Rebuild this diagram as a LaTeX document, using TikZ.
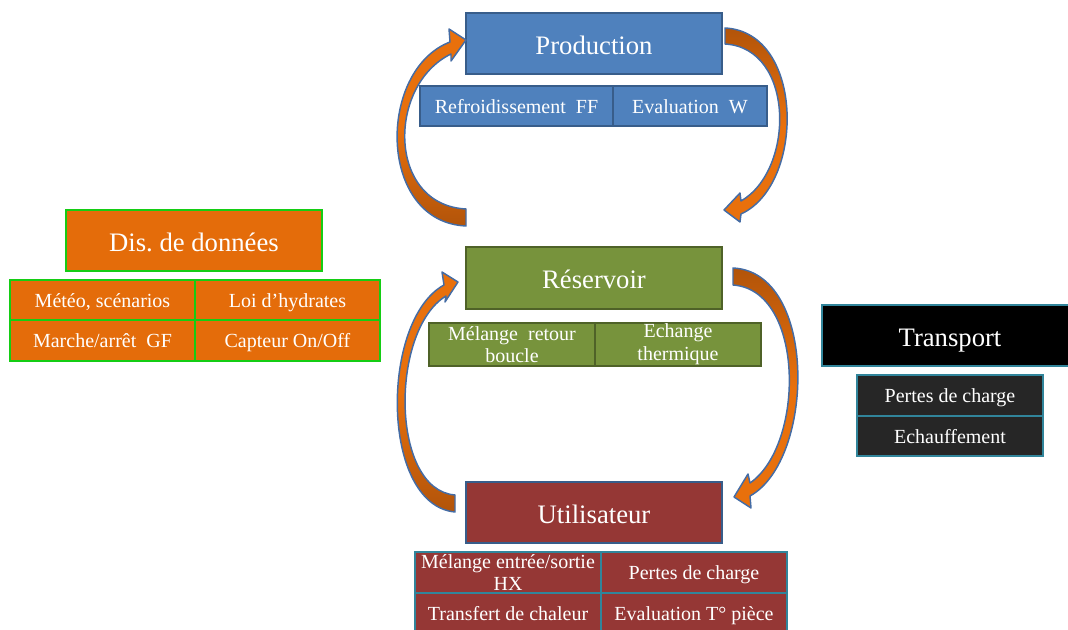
\documentclass[tikz,border=0pt]{standalone}
\usepackage{fontspec}
\setmainfont{Liberation Serif}
\usepackage{xcolor}
\usetikzlibrary{positioning}
\frenchspacing
\definecolor{pblue}{RGB}{79,129,189}
\definecolor{pedge}{RGB}{56,93,138}
\definecolor{rgreen}{RGB}{119,147,60}
\definecolor{redge}{RGB}{79,98,40}
\definecolor{ured}{RGB}{149,55,53}
\definecolor{tealedge}{RGB}{49,133,155}
\definecolor{dorange}{RGB}{228,108,10}
\definecolor{dedge}{RGB}{20,205,20}
\definecolor{tdark}{RGB}{38,38,38}
\definecolor{aorange}{RGB}{232,112,12}
\definecolor{abrown}{RGB}{178,84,10}
\definecolor{aedge}{RGB}{68,108,165}
\tikzset{
  tbox/.style ={rectangle, draw, line width=1.5pt, text=white, align=center,
                inner sep=0pt, outer sep=0pt, minimum width=192pt,
                minimum height=45.75pt, text height=16pt, text depth=0pt,
                font=\fontsize{20}{23}\selectfont},
  sbox/.style ={rectangle, draw, line width=1.5pt, text=white, align=center,
                inner sep=0pt, outer sep=0pt, minimum height=30.5pt,
                font=\fontsize{15}{17}\selectfont},
  sline/.style={sbox, text height=11pt, text depth=0pt},
  carrow/.style={draw=aedge, line width=1.1pt, line join=round},
  tailup/.style ={carrow, top color=abrown, bottom color=aorange, middle color=aorange},
  taildown/.style={carrow, top color=aorange, bottom color=abrown, middle color=aorange}
}

\begin{document}
\begin{tikzpicture}[x=0.75pt, y=-0.75pt]
\useasboundingbox (0,0) rectangle (1068,630);
% Production
\node[tbox, fill=pblue, draw=pedge] (prod) at (594,43.5) {Production};
\node[sline, fill=pblue, draw=pedge, minimum width=144.75pt] (refr) at (516.5,106) {Refroidissement~ FF};
\node[sline, fill=pblue, draw=pedge, minimum width=115.5pt, right=0pt of refr] (evalw) {Evaluation~ W};
% Reservoir
\node[tbox, fill=rgreen, draw=redge, minimum height=46.5pt] (res) at (594,278) {Réservoir};
\node[sbox, fill=rgreen, draw=redge, minimum width=124.5pt, minimum height=32.25pt] (melr) at (512,344.5) {Mélange~ retour\\boucle};
\node[sbox, fill=rgreen, draw=redge, minimum width=124.5pt, minimum height=32.25pt, right=0pt of melr] (echt) {Echange\\thermique};
% Utilisateur
\node[tbox, fill=ured, draw=pedge] (util) at (594,512.5) {Utilisateur};
\node[sbox, fill=ured, draw=tealedge, minimum width=139.5pt] (mels) at (508,572.5) {Mélange entrée/sortie\\HX};
\node[sline, fill=ured, draw=tealedge, minimum width=139.5pt, right=0pt of mels] (pdcu) {Pertes de charge};
\node[sline, fill=ured, draw=tealedge, minimum width=139.5pt, below=0pt of mels] (tdc) {Transfert de chaleur};
\node[sline, fill=ured, draw=tealedge, minimum width=139.5pt, right=0pt of tdc] (evalt) {Evaluation T° pièce};
% Dis. de donnees
\node[tbox, fill=dorange, draw=dedge] (dis) at (194,240.5) {Dis. de données};
\node[sline, fill=dorange, draw=dedge, minimum width=138.75pt] (meteo) at (102.5,300) {Météo, scénarios};
\node[sline, fill=dorange, draw=dedge, minimum width=138.75pt, right=0pt of meteo] (loi) {Loi d’hydrates};
\node[sline, fill=dorange, draw=dedge, minimum width=138.75pt, below=0pt of meteo] (marche) {Marche/arrêt~ GF};
\node[sline, fill=dorange, draw=dedge, minimum width=138.75pt, right=0pt of marche] (capt) {Capteur On/Off};
% Transport
\node[tbox, fill=black, draw=tealedge] (trans) at (950,335.5) {Transport};
\node[sline, fill=tdark, draw=tealedge, minimum width=139.5pt] (pdct) at (950,395.5) {Pertes de charge};
\node[sline, fill=tdark, draw=tealedge, minimum width=139.5pt, below=0pt of pdct] (echf) {Echauffement};
% curved arrows
\path[taildown] (466,226) .. controls (377,222) and (377,70) .. (450,42) -- (449,29) -- (466,40)
  -- (451,61) -- (451,54) .. controls (387,85) and (387,205) .. (466,209) -- cycle;
\path[tailup] (725,28) .. controls (805,32) and (805,185) .. (741,214) -- (740,222) -- (724,210)
  -- (740,193) -- (741,201) .. controls (795,170) and (795,48) .. (725,44) -- cycle;
\path[tailup] (733,268) .. controls (818,272) and (815,460) .. (750,496) -- (751,508) -- (734,497)
  -- (748,474) -- (750,483) .. controls (805,445) and (805,290) .. (733,285) -- cycle;
\path[taildown] (455,512) .. controls (380,505) and (380,320) .. (444,285) -- (442,272) -- (458,282)
  -- (445,302) -- (446,296) .. controls (390,330) and (390,490) .. (455,495) -- cycle;
\end{tikzpicture}
\end{document}
